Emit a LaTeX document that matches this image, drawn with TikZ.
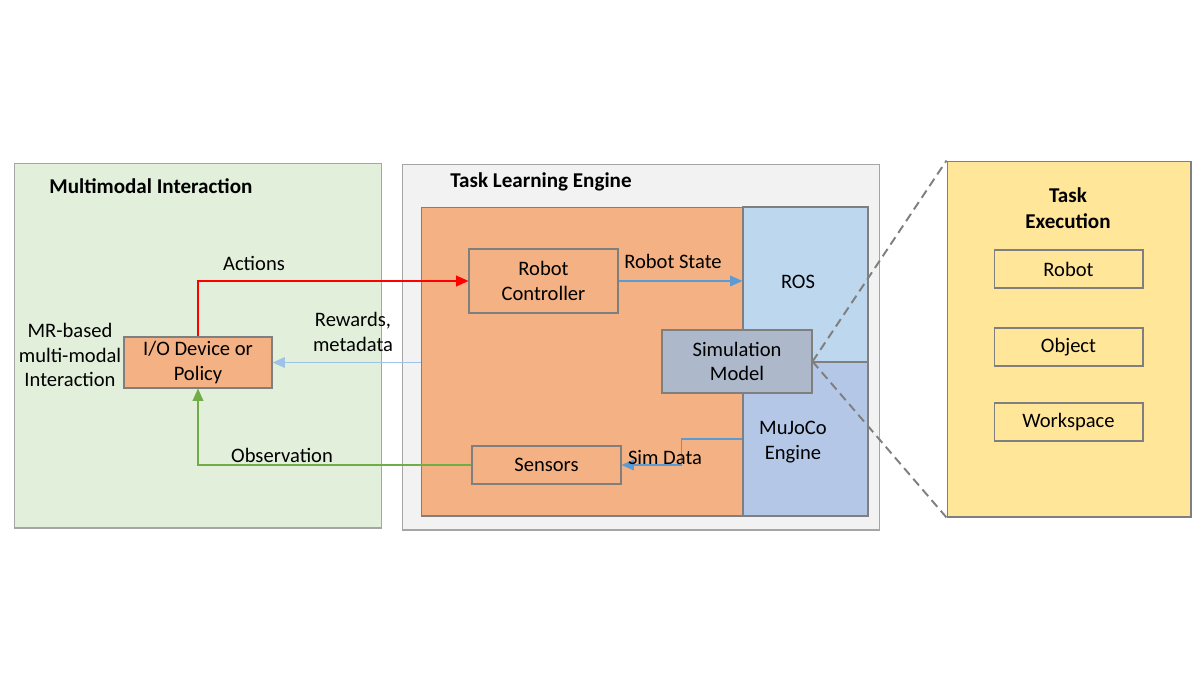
\documentclass[tikz,border=0pt]{standalone}
\usepackage{fontspec}
\setmainfont{Carlito}
\usetikzlibrary{arrows.meta}
\definecolor{panelgreen}{HTML}{E2EFDA}
\definecolor{panelgray}{HTML}{F2F2F2}
\definecolor{engorange}{HTML}{F4B183}
\definecolor{rosblue}{HTML}{BDD7EE}
\definecolor{mjblue}{HTML}{B4C7E7}
\definecolor{simgray}{HTML}{ADB9CA}
\definecolor{execyellow}{HTML}{FFE699}
\definecolor{edgegray}{HTML}{7F7F7F}
\definecolor{arrowblue}{HTML}{5B9BD5}
\definecolor{lightblue}{HTML}{9DC3E6}
\definecolor{obsgreen}{HTML}{70AD47}

\begin{document}
\begin{tikzpicture}[x=0.02cm,y=-0.02cm,>={Triangle[length=7pt,width=6pt]},font=\fontsize{11.7}{13.8}\selectfont]
  \tikzstyle{panel}=[rectangle,draw=edgegray!70,line width=0.6pt,inner sep=0pt]
  \tikzstyle{block}=[rectangle,draw=edgegray,line width=0.6pt,inner sep=0pt,
              minimum width=2.98cm,align=center]
  \tikzstyle{title}=[font=\fontsize{12}{14.5}\selectfont\bfseries,align=center,inner sep=0pt]
  \tikzstyle{lbl}=[align=center]
  \useasboundingbox (0,0) rectangle (1200,684);
  % panels
  \node [panel,fill=panelgreen,minimum width=7.36cm,minimum height=7.3cm] (mmi) at (198,345.5) {};
  \node [panel,fill=panelgray,minimum width=9.56cm,minimum height=7.32cm] (tle) at (641,347) {};
  \node [panel,fill=engorange,draw=edgegray,minimum width=6.44cm,minimum height=6.18cm] (sim) at (582,361.5) {};
  \node [panel,fill=rosblue,draw=edgegray,minimum width=2.5cm,minimum height=3.1cm] (ros) at (805.5,284.5) {};
  \node [panel,fill=mjblue,draw=edgegray,minimum width=2.5cm,minimum height=3.08cm] (mujoco) at (805.5,439) {};
  \node [panel,fill=execyellow,draw=edgegray,minimum width=4.88cm,minimum height=7.12cm] (exec) at (1069,339) {};
  % titles
  \node [title,anchor=west] at (49,186) {Multimodal Interaction};
  \node [title,anchor=west] at (450,182) {Task Learning Engine};
  \node [title] at (1068,208) {Task\\Execution};
  % blocks
  \node [block,fill=engorange,minimum width=2.96cm,minimum height=1.02cm] (io) at (198,362.5) {I/O Device or\\Policy};
  \node [block,minimum height=1.28cm] (ctrl) at (543.5,281) {Robot\\Controller};
  \node [block,minimum height=0.76cm] (sensors) at (546.5,465) {Sensors};
  \node [block,fill=simgray,minimum width=3cm,minimum height=1.26cm] (model) at (737,361.5) {Simulation\\Model};
  \node [block,minimum height=0.76cm] (robot) at (1068.5,269) {Robot};
  \node [block,minimum height=0.76cm] (object) at (1068.5,347) {Object};
  \node [block,minimum height=0.76cm] (workspace) at (1068.5,422) {Workspace};
  % region labels
  \node [lbl] at (70,355) {MR-based\\multi-modal\\Interaction};
  \node [lbl] at (798,282) {ROS};
  \node [lbl] at (793,442) {MuJoCo\\Engine};
  % connectors
  \draw [->,red,line width=1.1pt] (io.north) |- (ctrl.west);
  \node [lbl] at (254,263) {Actions};
  \draw [->,arrowblue,line width=0.8pt] (ctrl.east) -- (ros.west |- ctrl.east);
  \node [lbl] at (673,261) {Robot State};
  \draw [->,lightblue,line width=0.8pt] (sim.west |- io.east) -- (io.east);
  \node [lbl] at (353,332) {Rewards,\\metadata};
  \draw [->,arrowblue,line width=0.8pt] (mujoco.west) -- ++(-61,0) |- (sensors.east);
  \node [lbl] at (665,457) {Sim Data};
  \draw [->,obsgreen,line width=1pt] (sensors.west) -| (io.south);
  \node [lbl] at (282,455) {Observation};
  \draw [dashed,edgegray,line width=1.1pt,dash pattern=on 5pt off 3pt] (model.east) -- (exec.north west);
  \draw [dashed,edgegray,line width=1.1pt,dash pattern=on 5pt off 3pt] (model.east) -- (exec.south west);
\end{tikzpicture}
\end{document}
